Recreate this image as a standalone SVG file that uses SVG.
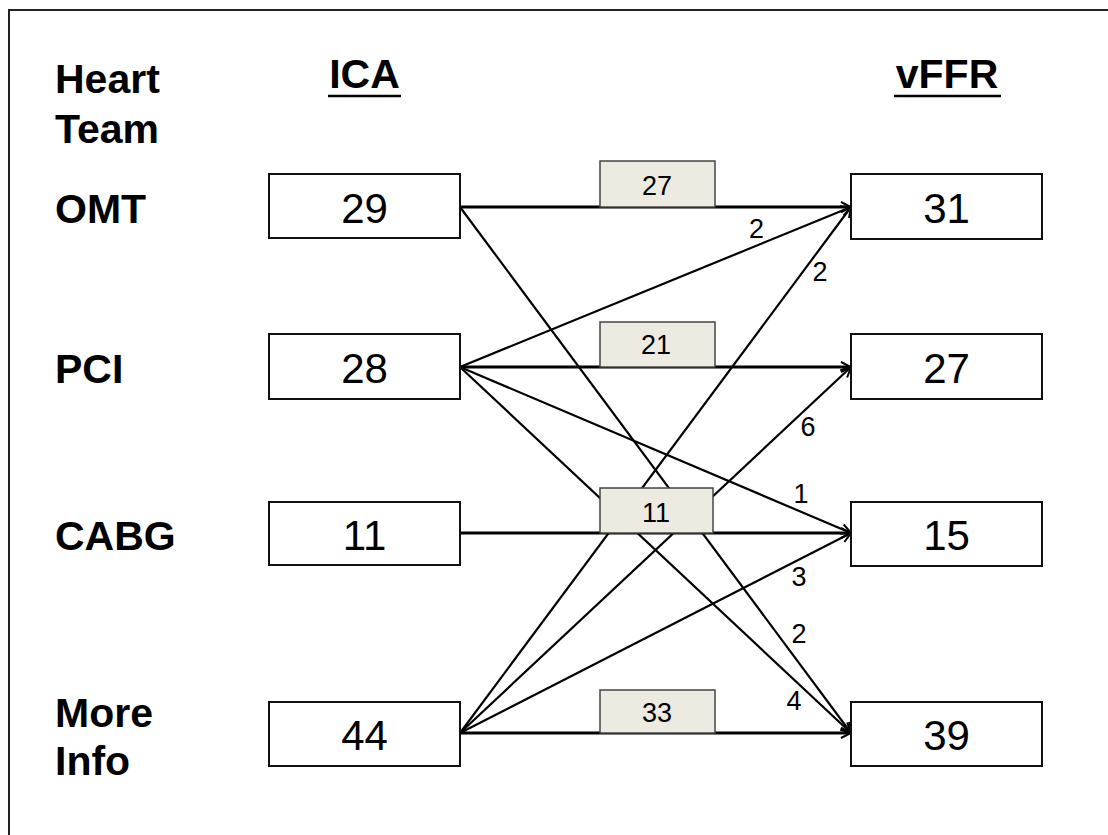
<svg xmlns="http://www.w3.org/2000/svg" width="1108" height="835" viewBox="0 0 1108 835">
<style>
.hd{font-family:"Liberation Sans",Arial,sans-serif;font-weight:bold;font-size:41px;fill:#000}
.num{font-family:"Liberation Sans",Arial,sans-serif;font-size:42px;fill:#000;text-anchor:middle}
.sm{font-family:"Liberation Sans",Arial,sans-serif;font-size:27px;fill:#000;text-anchor:middle}
.box{fill:#fff;stroke:#111;stroke-width:2}
.lbl{fill:#EDEBE1;stroke:#444;stroke-width:1.5}
.h{stroke:#000;stroke-width:3;fill:none}
.d{stroke:#000;stroke-width:2.2;fill:none}
</style>
<defs>
<marker id="arr" viewBox="0 0 12 12" refX="11" refY="6" markerWidth="12" markerHeight="12" markerUnits="userSpaceOnUse" orient="auto">
<path d="M1,1 L11,6 L1,11" fill="none" stroke="#000" stroke-width="2"/>
</marker>
</defs>
<rect width="1108" height="835" fill="#fff"/>
<path d="M9,835 V10 H1108" fill="none" stroke="#222" stroke-width="2"/>
<g id="headers">
<text class="hd" x="55" y="93">Heart</text>
<text class="hd" x="55" y="143">Team</text>
<text class="hd" x="364.5" y="88" text-anchor="middle">ICA</text>
<line x1="328" y1="96" x2="401" y2="96" stroke="#000" stroke-width="2.5"/>
<text class="hd" x="947" y="88" text-anchor="middle">vFFR</text>
<line x1="894" y1="96" x2="1001" y2="96" stroke="#000" stroke-width="2.5"/>
</g>
<g id="row-labels">
<text class="hd" x="55" y="223">OMT</text>
<text class="hd" x="55" y="383">PCI</text>
<text class="hd" x="55" y="550">CABG</text>
<text class="hd" x="55" y="727">More</text>
<text class="hd" x="55" y="775">Info</text>
</g>
<g id="connectors">
<line class="h" x1="460" y1="207" x2="851" y2="207" marker-end="url(#arr)"/>
<line class="h" x1="460" y1="367" x2="851" y2="367" marker-end="url(#arr)"/>
<line class="h" x1="460" y1="533" x2="851" y2="533" marker-end="url(#arr)"/>
<line class="h" x1="460" y1="733" x2="851" y2="733" marker-end="url(#arr)"/>
<line class="d" x1="460" y1="207" x2="851" y2="733" marker-end="url(#arr)"/>
<line class="d" x1="460" y1="367" x2="851" y2="207" marker-end="url(#arr)"/>
<line class="d" x1="460" y1="367" x2="851" y2="533" marker-end="url(#arr)"/>
<line class="d" x1="460" y1="367" x2="851" y2="733" marker-end="url(#arr)"/>
<line class="d" x1="460" y1="733" x2="851" y2="207" marker-end="url(#arr)"/>
<line class="d" x1="460" y1="733" x2="851" y2="367" marker-end="url(#arr)"/>
<line class="d" x1="460" y1="733" x2="851" y2="533" marker-end="url(#arr)"/>
</g>
<g id="flow-labels">
<rect class="lbl" x="600" y="161" width="115" height="46"/>
<text class="sm" x="657" y="195">27</text>
<rect class="lbl" x="600" y="322" width="115" height="45"/>
<text class="sm" x="656" y="354">21</text>
<rect class="lbl" x="600" y="488" width="113" height="45"/>
<text class="sm" x="656" y="522">11</text>
<rect class="lbl" x="600" y="690" width="115" height="43"/>
<text class="sm" x="657" y="722">33</text>
<text class="sm" x="756.5" y="238">2</text>
<text class="sm" x="820" y="281">2</text>
<text class="sm" x="808" y="436">6</text>
<text class="sm" x="801" y="503">1</text>
<text class="sm" x="799" y="586">3</text>
<text class="sm" x="799" y="643">2</text>
<text class="sm" x="794" y="710">4</text>
</g>
<g id="ica-omt"><rect class="box" x="269" y="174" width="191" height="64"/><text class="num" x="364.5" y="223">29</text></g>
<g id="ica-pci"><rect class="box" x="269" y="334" width="191" height="65"/><text class="num" x="364.5" y="383">28</text></g>
<g id="ica-cabg"><rect class="box" x="269" y="502" width="191" height="63"/><text class="num" x="364.5" y="550">11</text></g>
<g id="ica-more"><rect class="box" x="269" y="702" width="191" height="64"/><text class="num" x="364.5" y="750">44</text></g>
<g id="vffr-omt"><rect class="box" x="851" y="174" width="191" height="65"/><text class="num" x="946.5" y="223">31</text></g>
<g id="vffr-pci"><rect class="box" x="851" y="334" width="191" height="65"/><text class="num" x="946.5" y="383">27</text></g>
<g id="vffr-cabg"><rect class="box" x="851" y="502" width="191" height="64"/><text class="num" x="946.5" y="550">15</text></g>
<g id="vffr-more"><rect class="box" x="851" y="702" width="191" height="64"/><text class="num" x="946.5" y="750">39</text></g>
</svg>
